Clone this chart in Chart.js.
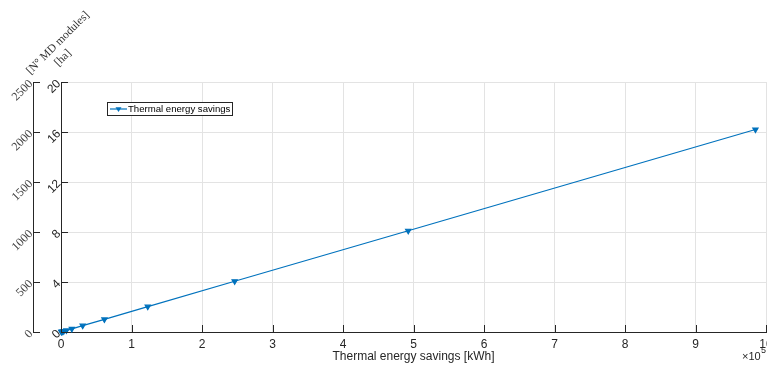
<!DOCTYPE html>
<html>
<head>
<meta charset="utf-8">
<script src="https://cdn.jsdelivr.net/npm/chart.js@4.4.1/dist/chart.umd.min.js"></script>
<style>
html,body{margin:0;padding:0;background:#fff;}
#wrap{width:767px;height:366px;position:relative;}
</style>
</head>
<body>
<div id="wrap"><canvas id="c" width="767" height="366"></canvas></div>
<script>
// Data (x in units of 1e5 kWh)
const savingsX = [0.0048, 0.0096, 0.0192, 0.0385, 0.077, 0.154, 0.308, 0.616, 1.231, 2.463, 4.925, 9.85];
const areaHa   = [0.008, 0.016, 0.032, 0.063, 0.127, 0.25, 0.51, 1.01, 2.03, 4.06, 8.1, 16.2];
const seriesLabel = 'Thermal energy savings';
const xTitle = 'Thermal energy savings [kWh]';
const yTitle = '[ha]';
const y2Title = '[N\u00B0 MD modules]';
const xTicks = [0,1,2,3,4,5,6,7,8,9,10];
const yTicks = [0,4,8,12,16,20];
const y2Ticks = [0,500,1000,1500,2000,2500];

const BLUE = '#0072BD';
const AXIS = '#262626';
const GRID = '#e3e3e3';

const points = savingsX.map((x,i)=>({x:x, y:areaHa[i]}));

function drawTri(ctx, x, y, r){
  ctx.beginPath();
  ctx.moveTo(x - r, y - r*0.6);
  ctx.lineTo(x + r, y - r*0.6);
  ctx.lineTo(x, y + r*1.0);
  ctx.closePath();
  ctx.fill();
}

const extras = {
  id:'extras',
  afterDraw(chart){
    const ctx = chart.ctx;
    const xs = chart.scales.x, ys = chart.scales.y, y2 = chart.scales.y2;
    const ca = chart.chartArea;
    ctx.save();
    ctx.strokeStyle = AXIS; ctx.lineWidth = 1;
    // inward tick marks
    ctx.beginPath();
    xTicks.forEach(v=>{ const px = Math.round(xs.getPixelForValue(v))+0.5; ctx.moveTo(px, ca.bottom); ctx.lineTo(px, ca.bottom-7); });
    yTicks.forEach(v=>{ const py = Math.round(ys.getPixelForValue(v))+0.5; ctx.moveTo(ca.left, py); ctx.lineTo(ca.left+7, py); });
    const y2x = y2.right;
    y2Ticks.forEach(v=>{ const py = Math.round(y2.getPixelForValue(v))+0.5; ctx.moveTo(y2x, py); ctx.lineTo(y2x+7, py); });
    ctx.stroke();
    // axis titles (rotated)
    ctx.fillStyle = '#333';
    ctx.font = '11.5px "Liberation Serif", "DejaVu Serif", serif';
    ctx.textAlign = 'center'; ctx.textBaseline = 'middle';
    ctx.save(); ctx.translate(58, 43); ctx.rotate(-Math.PI/4); ctx.fillText(y2Title, 0, 0); ctx.restore();
    ctx.save(); ctx.translate(63, 58); ctx.rotate(-Math.PI/4); ctx.fillText(yTitle, 0, 0); ctx.restore();
    // x10^5 exponent
    ctx.fillStyle = AXIS;
    ctx.font = '11px "Liberation Sans", Arial, sans-serif';
    ctx.textAlign = 'left'; ctx.textBaseline = 'middle';
    ctx.fillText('\u00D710', 742, 357);
    ctx.font = '9px "Liberation Sans", Arial, sans-serif';
    ctx.fillText('5', 761, 351);
    // legend
    const lx = 107, ly = 102, lw = 125, lh = 13;
    ctx.fillStyle = '#fff';
    ctx.fillRect(lx, ly, lw, lh);
    ctx.strokeStyle = AXIS; ctx.lineWidth = 1;
    ctx.strokeRect(lx+0.5, ly+0.5, lw, lh);
    const my = ly + lh/2 + 0.5;
    ctx.strokeStyle = BLUE; ctx.lineWidth = 1.2;
    ctx.beginPath(); ctx.moveTo(lx+3, my); ctx.lineTo(lx+20, my); ctx.stroke();
    ctx.fillStyle = BLUE; drawTri(ctx, lx+11.5, my, 3);
    ctx.fillStyle = '#000';
    ctx.font = '9.6px "Liberation Sans", Arial, sans-serif';
    ctx.textAlign = 'left'; ctx.textBaseline = 'middle';
    ctx.fillText(seriesLabel, lx+21, my+0.5);
    ctx.restore();
  }
};

new Chart(document.getElementById('c'), {
  type: 'scatter',
  data: {
    datasets: [{
      label: seriesLabel,
      data: points,
      showLine: true,
      borderColor: BLUE,
      backgroundColor: BLUE,
      borderWidth: 1.2,
      pointStyle: 'triangle',
      rotation: 180,
      pointRadius: 3,
      pointHoverRadius: 3,
      clip: false
    }]
  },
  options: {
    responsive: false,
    animation: false,
    layout: { autoPadding: false, padding: { top: 82, right: 1, bottom: 0, left: 0 } },
    plugins: { legend: { display: false }, tooltip: { enabled: false } },
    scales: {
      x: {
        type: 'linear', min: 0, max: 10,
        afterBuildTicks: s => { s.ticks = xTicks.map(v=>({value:v})); },
        afterFit: s => { s.height = 34; s.paddingLeft = 0; s.paddingRight = 0; },
        grid: { color: GRID, drawTicks: false, lineWidth: 1 },
        border: { color: AXIS, width: 1 },
        ticks: { color: AXIS, padding: 5, maxRotation: 0, font: { family: '"Liberation Sans", Arial, sans-serif', size: 12 } },
        title: { display: true, text: xTitle, color: AXIS, padding: { top: 0, bottom: 2 }, font: { family: '"Liberation Sans", Arial, sans-serif', size: 12 } }
      },
      y: {
        type: 'linear', position: 'left', weight: 0, min: 0, max: 20,
        afterBuildTicks: s => { s.ticks = yTicks.map(v=>({value:v})); },
        afterFit: s => { s.width = 28; s.paddingTop = 0; s.paddingBottom = 0; },
        grid: { color: GRID, drawTicks: false },
        border: { color: AXIS, width: 1 },
        ticks: { color: AXIS, padding: 2, minRotation: 45, maxRotation: 45, callback: v => String(v), font: { family: '"Liberation Sans", Arial, sans-serif', size: 12 } }
      },
      y2: {
        type: 'linear', position: 'left', weight: 1, min: 0, max: 2500,
        afterBuildTicks: s => { s.ticks = y2Ticks.map(v=>({value:v})); },
        afterFit: s => { s.width = 33; s.paddingTop = 0; s.paddingBottom = 0; },
        grid: { drawOnChartArea: false, drawTicks: false },
        border: { color: AXIS, width: 1 },
        ticks: { color: '#444', padding: 2, minRotation: 45, maxRotation: 45, callback: v => String(v), font: { family: '"Liberation Serif", "DejaVu Serif", serif', size: 12 } }
      }
    }
  },
  plugins: [extras]
});
</script>
</body>
</html>
